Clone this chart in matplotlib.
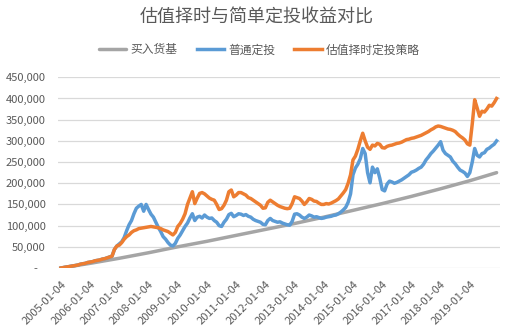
import matplotlib
matplotlib.use("Agg")
import matplotlib.pyplot as plt
from matplotlib.ticker import FuncFormatter, FixedLocator

plt.rcParams['font.family'] = ['Noto Sans CJK SC', 'DejaVu Sans']

title = "估值择时与简单定投收益对比"
series_names = ["买入货基", "普通定投", "估值择时定投策略"]
tick_labels = [f"{y}-01-04" for y in range(2005, 2020)]

# monthly points, 2005-01 .. 2019-12 (values in thousands)
blue_k = [
    0, 1, 2, 3, 4, 5, 6, 7, 9, 10, 11, 13,
    14, 15, 17, 18, 19, 21, 22, 24, 26, 28, 44, 52,
    57, 62, 72, 88, 102, 112, 128, 141, 146, 150, 134, 150,
    138, 127, 120, 108, 96, 86, 74, 68, 60, 54, 52, 58,
    70, 78, 88, 98, 106, 118, 128, 112, 120, 122, 118, 125,
    120, 117, 118, 112, 108, 100, 98, 108, 115, 126, 129, 121,
    124, 128, 127, 124, 126, 122, 120, 115, 112, 110, 108, 103,
    102, 112, 117, 112, 110, 108, 109, 106, 104, 102, 101, 110,
    127, 128, 125, 120, 117, 120, 125, 123, 120, 121, 119, 117,
    118, 120, 121, 122, 124, 125, 128, 132, 137, 143, 155, 175,
    220, 236, 245, 258, 282, 270, 225, 201, 238, 225, 234, 212,
    185, 182, 198, 205, 203, 200, 202, 205, 208, 212, 216, 220,
    226, 228, 231, 235, 238, 245, 255, 262, 270, 276, 283, 290,
    298, 278, 270, 266, 262, 252, 246, 238, 231, 228, 224, 216,
    225, 250, 282, 266, 262, 270, 272, 280, 283, 288, 292, 300,
]
orange_k = [
    0, 1, 2, 3, 4, 5, 6, 7, 9, 10, 11, 13,
    14, 15, 17, 18, 19, 21, 22, 24, 26, 28, 44, 52,
    54, 60, 68, 74, 78, 84, 88, 90, 93, 94, 95, 96,
    97, 98, 97, 96, 95, 93, 90, 88, 86, 82, 78, 84,
    98, 105, 115, 128, 150, 165, 180, 152, 165, 176, 178, 175,
    170, 165, 162, 160, 150, 138, 140, 148, 160, 180, 184, 168,
    172, 178, 178, 175, 172, 166, 164, 160, 156, 152, 148, 141,
    142, 155, 160, 156, 152, 148, 145, 143, 141, 140, 141, 152,
    168, 166, 164, 158, 150, 156, 164, 162, 158, 157, 153, 150,
    150, 152, 151, 153, 156, 159, 163, 170, 177, 185, 200, 220,
    255, 264, 280, 300, 318, 300, 285, 280, 290, 288, 294, 292,
    284, 283, 287, 289, 290, 292, 294, 295, 297, 300, 303, 304,
    306, 307, 309, 311, 313, 316, 319, 322, 326, 329, 333, 335,
    334, 332, 330, 328, 327, 325, 322, 316, 311, 307, 302, 293,
    290, 340, 397, 378, 358, 370, 368, 375, 384, 382, 390, 400,
]
gray_month = [0, 12, 24, 36, 48, 60, 72, 84, 96, 108, 120, 132, 144, 156, 168, 179]
gray_k = [0, 11, 23, 36, 50, 63, 77, 91, 105, 120, 136, 152, 169, 187, 206, 225]

months = list(range(len(blue_k)))
tick_pos = list(range(0, 180, 12))

W, H = 514, 331
fig = plt.figure(figsize=(W / 100, H / 100), dpi=100)
ax = fig.add_axes([58 / W, 1 - 268 / H, (500 - 58) / W, (268 - 77.3) / H])

txt = '#595959'
ax.plot(gray_month, [v * 1000 for v in gray_k], color='#A5A5A5', lw=2.5,
        label=series_names[0], solid_capstyle='round', zorder=3)
ax.plot(months, [v * 1000 for v in blue_k], color='#5B9BD5', lw=2.5,
        label=series_names[1], solid_joinstyle='round', zorder=4)
ax.plot(months, [v * 1000 for v in orange_k], color='#ED7D31', lw=2.5,
        label=series_names[2], solid_joinstyle='round', zorder=5)

ax.set_xlim(-1.2, 180.4)
ax.set_ylim(0, 450000)
ax.yaxis.set_major_locator(FixedLocator(list(range(0, 450001, 50000))))
ax.yaxis.set_major_formatter(FuncFormatter(lambda v, p: "-   " if v == 0 else f"{int(v):,}"))
ax.grid(axis='y', color='#D9D9D9', lw=0.9)
ax.set_axisbelow(True)
for s in ax.spines.values():
    s.set_visible(False)
ax.tick_params(axis='y', length=0, pad=9, labelsize=8, labelcolor=txt)
ax.set_xticks(tick_pos)
ax.set_xticklabels(tick_labels, rotation=45, ha='right', rotation_mode='anchor')
ax.tick_params(axis='x', length=0, pad=8, labelsize=8, labelcolor=txt)

fig.text(0.5, 1 - 18 / H, title, ha='center', va='center', fontsize=13, color=txt)
fig.legend(loc='center', bbox_to_anchor=(0.505, 1 - 50 / H), ncol=3, frameon=False,
           fontsize=8.5, labelcolor=txt, handlelength=2.3, handletextpad=0.4,
           columnspacing=1.6)

fig.savefig('out.png', dpi=100)
